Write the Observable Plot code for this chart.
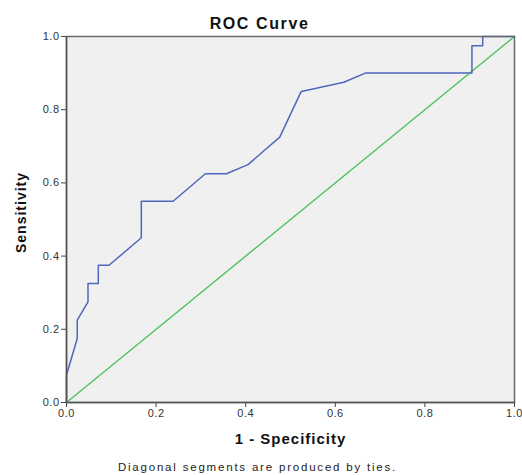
<!DOCTYPE html>
<html>
<head>
<meta charset="utf-8">
<script src="https://cdn.jsdelivr.net/npm/d3@7"></script>
<script src="https://cdn.jsdelivr.net/npm/@observablehq/plot@0.6"></script>
<style>
  html, body { margin: 0; padding: 0; background: white; }
</style>
</head>
<body>
<div id="chart"></div>
<script>
const title = "ROC Curve";
const xLabel = "1 - Specificity";
const yLabel = "Sensitivity";
const footnote = "Diagonal segments are produced by ties.";
const tickValues = [0, 0.2, 0.4, 0.6, 0.8, 1.0];

// ROC curve points (1 - specificity, sensitivity)
const fpr = [0, 0, 0.024, 0.024, 0.048, 0.048, 0.071, 0.071, 0.095, 0.167, 0.167, 0.238, 0.310, 0.357, 0.405, 0.476, 0.524, 0.619, 0.667, 0.905, 0.905, 0.929, 0.929, 1];
const tpr = [0, 0.075, 0.175, 0.225, 0.275, 0.325, 0.325, 0.375, 0.375, 0.45, 0.55, 0.55, 0.625, 0.625, 0.65, 0.725, 0.85, 0.875, 0.9, 0.9, 0.975, 0.975, 1, 1];

// Reference line
const refX = [0, 1];
const refY = [0, 1];

const roc = fpr.map((f, i) => ({fpr: f, tpr: tpr[i]}));
const ref = refX.map((v, i) => ({x: v, y: refY[i]}));

const fmt = d => d.toFixed(1);

const chart = Plot.plot({
  width: 522,
  height: 475,
  marginLeft: 66,
  marginRight: 8,
  marginTop: 36,
  marginBottom: 73,
  style: {fontFamily: "'Liberation Sans', Arial, sans-serif", fontSize: "11px", background: "white", color: "#222"},
  x: {domain: [0, 1], label: null},
  y: {domain: [0, 1], label: null},
  marks: [
    Plot.frame({fill: "#f0f0f0"}),
    Plot.line(ref, {x: "x", y: "y", stroke: "#4cc45a", strokeWidth: 1.4}),
    Plot.line(roc, {x: "fpr", y: "tpr", stroke: "#4f67bd", strokeWidth: 1.5}),
    Plot.frame({stroke: "#6a6a6a", strokeWidth: 1.5}),
    Plot.axisX({ticks: tickValues, tickFormat: fmt, tickSize: 5, tickPadding: 2, label: null, stroke: "#444", fill: "#333"}),
    Plot.axisY({ticks: tickValues, tickFormat: fmt, tickSize: 5, tickPadding: 2, label: null, stroke: "#444", fill: "#333"}),
    Plot.ruleX([0], {stroke: "#555", strokeWidth: 1.5}),
    Plot.ruleY([0], {stroke: "#555", strokeWidth: 1.5}),
    Plot.text([title], {frameAnchor: "top", lineAnchor: "middle", textAnchor: "middle", dx: -31, dy: -13, text: d => d, fontSize: 16, fontWeight: "bold", fill: "#111"}),
    Plot.text([xLabel], {frameAnchor: "bottom", lineAnchor: "middle", textAnchor: "middle", dy: 36.7, text: d => d, fontSize: 15, fontWeight: "bold", fill: "#111"}),
    Plot.text([footnote], {frameAnchor: "bottom", lineAnchor: "middle", textAnchor: "middle", dx: -33, dy: 65, text: d => d, fontSize: 11.5, fill: "#222"}),
    Plot.text([yLabel], {frameAnchor: "left", lineAnchor: "middle", textAnchor: "middle", dx: -44.5, dy: -7, rotate: -90, text: d => d, fontSize: 14, fontWeight: "bold", fill: "#111"})
  ]
});

// letter spacing to match the wide reference text rendering
const spacing = new Map([[title, "1.6px"], [xLabel, "1px"], [footnote, "1.8px"], [yLabel, "1px"]]);
d3.select(chart).selectAll("text").each(function () {
  const t = this.textContent;
  if (spacing.has(t)) this.setAttribute("letter-spacing", spacing.get(t));
  else this.setAttribute("letter-spacing", "0.5px");
});

document.getElementById("chart").appendChild(chart);
</script>
</body>
</html>
